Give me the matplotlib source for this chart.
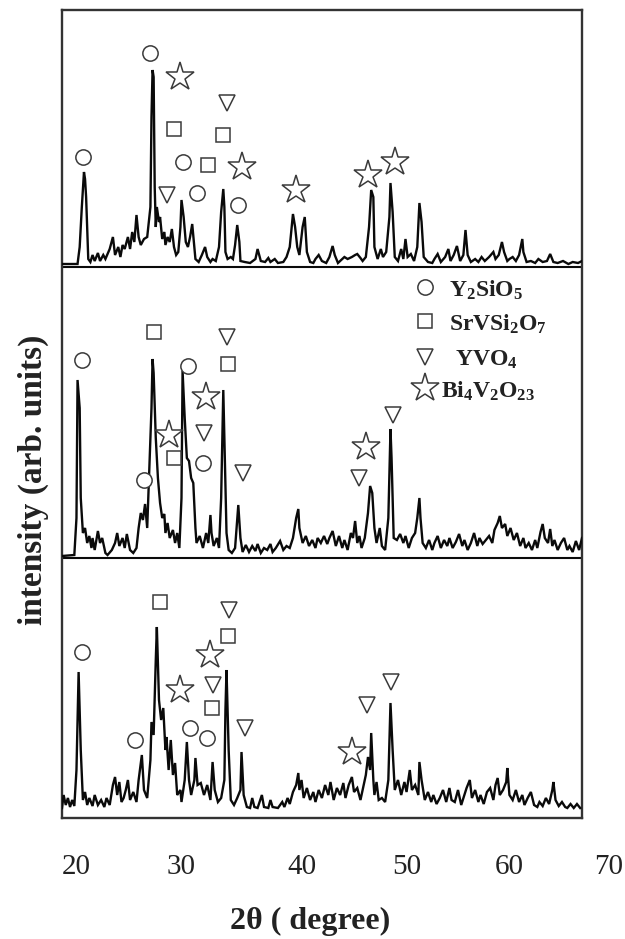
import matplotlib
matplotlib.use("Agg")
import matplotlib.pyplot as plt
from matplotlib.transforms import blended_transform_factory

plt.rcParams['font.family'] = ['Liberation Serif', 'DejaVu Serif']
plt.rcParams['mathtext.fontset'] = 'custom'
plt.rcParams['mathtext.rm'] = 'Liberation Serif:bold'
plt.rcParams['mathtext.it'] = 'Liberation Serif:bold'
plt.rcParams['mathtext.bf'] = 'Liberation Serif:bold'

# ---------------- diffraction patterns (2theta in degrees, intensity arb.) ----------------
# top pattern
tt_top = [18.35, 19.8, 20.0, 20.2, 20.4, 20.5, 20.6, 20.7, 20.8, 21.0, 21.2, 21.4, 21.7, 21.9,
          22.2, 22.4, 22.8, 23.1, 23.3, 23.6, 23.8, 24.0, 24.2, 24.5, 24.7, 24.9, 25.1, 25.3,
          25.5, 25.7, 26.0, 26.3, 26.6, 26.7, 26.8, 26.9, 27.0, 27.1, 27.2, 27.4, 27.5, 27.7,
          27.9, 28.0, 28.2, 28.4, 28.6, 28.8, 29.0, 29.2, 29.4, 29.5, 29.7, 29.9, 30.1, 30.3,
          30.5, 30.7, 30.8, 31.1, 31.4, 31.7, 31.9, 32.2, 32.4, 32.7, 33.0, 33.2, 33.4, 33.5,
          33.6, 33.8, 34.1, 34.3, 34.5, 34.7, 34.9, 35.0, 35.4, 35.9, 36.4, 36.6, 36.9, 37.3,
          37.6, 37.8, 38.2, 38.5, 39.0, 39.3, 39.6, 39.9, 40.1, 40.3, 40.5, 40.8, 41.0, 41.2,
          41.5, 41.8, 42.0, 42.3, 42.6, 43.0, 43.3, 43.6, 43.8, 44.1, 44.5, 44.7, 45.0, 45.4,
          45.7, 45.9, 46.2, 46.4, 46.7, 47.0, 47.2, 47.4, 47.5, 47.8, 48.1, 48.3, 48.6, 48.9,
          49.0, 49.2, 49.4, 49.7, 50.0, 50.2, 50.4, 50.6, 50.9, 51.2, 51.5, 51.7, 51.9, 52.1,
          52.5, 52.9, 53.1, 53.4, 53.7, 54.1, 54.4, 54.6, 54.9, 55.2, 55.5, 55.8, 56.0, 56.2,
          56.5, 56.9, 57.2, 57.5, 57.8, 58.2, 58.6, 58.8, 59.1, 59.4, 59.6, 59.9, 60.1, 60.4,
          60.7, 61.0, 61.3, 61.4, 61.7, 62.1, 62.5, 62.8, 63.2, 63.6, 63.9, 64.2, 64.6, 65.1,
          65.6, 66.0, 66.5, 66.87]
i_top = [3, 3, 20, 60, 95, 88, 70, 40, 8, 5, 12, 6, 14, 6,
         12, 8, 18, 30, 12, 20, 10, 22, 18, 30, 18, 35, 25, 52,
         30, 22, 28, 30, 60, 150, 197, 190, 80, 40, 60, 45, 50, 28,
         35, 22, 30, 25, 38, 20, 12, 15, 40, 67, 50, 25, 20, 30,
         43, 20, 8, 5, 12, 20, 10, 5, 8, 6, 20, 55, 78, 60,
         15, 8, 10, 8, 22, 42, 25, 6, 5, 4, 8, 18, 6, 5,
         9, 5, 8, 4, 5, 10, 20, 53, 40, 20, 12, 40, 50, 15,
         5, 4, 8, 12, 6, 4, 10, 21, 12, 4, 8, 10, 8, 10,
         12, 13, 9, 6, 10, 40, 77, 70, 20, 8, 18, 10, 15, 50,
         84, 55, 10, 6, 18, 8, 28, 10, 13, 6, 20, 64, 45, 10,
         5, 4, 8, 13, 5, 10, 18, 6, 12, 21, 6, 12, 37, 12,
         5, 8, 5, 10, 6, 10, 15, 8, 12, 25, 15, 6, 8, 10,
         6, 12, 28, 15, 5, 6, 4, 8, 5, 6, 13, 5, 4, 6,
         3, 5, 4, 6]

# middle pattern
tt_mid = [18.35, 19.5, 19.7, 19.8, 20.0, 20.1, 20.3, 20.5, 20.7, 20.9, 21.1, 21.2, 21.4, 21.7,
          21.9, 22.1, 22.4, 22.6, 23.0, 23.3, 23.5, 23.7, 24.0, 24.2, 24.4, 24.7, 25.0, 25.3,
          25.5, 25.7, 25.9, 26.1, 26.3, 26.5, 26.7, 26.8, 26.9, 27.1, 27.3, 27.5, 27.7, 27.9,
          28.0, 28.2, 28.4, 28.7, 28.9, 29.1, 29.3, 29.5, 29.6, 29.8, 30.0, 30.2, 30.4, 30.6,
          30.8, 30.9, 31.2, 31.5, 31.8, 32.0, 32.2, 32.3, 32.5, 32.8, 33.0, 33.2, 33.4, 33.5,
          33.7, 33.9, 34.2, 34.5, 34.8, 35.0, 35.2, 35.5, 35.8, 36.1, 36.4, 36.6, 36.9, 37.2,
          37.5, 37.8, 38.0, 38.3, 38.7, 39.0, 39.3, 39.6, 39.9, 40.2, 40.4, 40.5, 40.8, 41.1,
          41.4, 41.7, 42.0, 42.2, 42.5, 42.8, 43.1, 43.3, 43.6, 43.9, 44.2, 44.5, 44.7, 45.0,
          45.3, 45.5, 45.7, 45.9, 46.1, 46.3, 46.6, 46.9, 47.1, 47.3, 47.5, 47.7, 48.0, 48.2,
          48.5, 48.8, 49.0, 49.1, 49.3, 49.6, 49.9, 50.2, 50.4, 50.7, 51.0, 51.3, 51.5, 51.7,
          51.8, 52.0, 52.3, 52.6, 52.9, 53.1, 53.4, 53.7, 54.0, 54.3, 54.5, 54.8, 55.1, 55.4,
          55.7, 55.9, 56.2, 56.5, 56.8, 57.1, 57.3, 57.6, 57.9, 58.2, 58.5, 58.7, 59.0, 59.2,
          59.4, 59.7, 59.9, 60.2, 60.5, 60.8, 61.1, 61.4, 61.6, 61.9, 62.2, 62.5, 62.7, 63.0,
          63.2, 63.4, 63.7, 63.9, 64.1, 64.3, 64.6, 64.9, 65.2, 65.5, 65.7, 66.0, 66.3, 66.6,
          66.87]
i_mid = [2, 3, 40, 178, 150, 60, 25, 30, 15, 22, 10, 20, 8, 27,
         15, 20, 5, 3, 8, 15, 25, 12, 20, 10, 24, 8, 5, 10,
         30, 45, 38, 54, 30, 90, 150, 199, 185, 120, 80, 55, 40, 44,
         25, 35, 20, 28, 15, 25, 10, 60, 187, 140, 100, 97, 80, 75,
         30, 15, 22, 10, 25, 15, 43, 25, 12, 20, 10, 60, 168, 120,
         25, 8, 5, 10, 53, 20, 6, 13, 6, 12, 7, 14, 5, 10,
         8, 14, 6, 10, 17, 8, 12, 10, 20, 40, 49, 30, 15, 22,
         12, 18, 10, 20, 15, 22, 14, 20, 27, 12, 22, 10, 18, 8,
         25, 20, 37, 15, 22, 10, 20, 45, 72, 65, 30, 15, 30, 12,
         8, 40, 129, 100, 20, 18, 24, 15, 22, 10, 20, 25, 40, 60,
         40, 15, 10, 18, 8, 15, 22, 10, 18, 12, 20, 10, 16, 24,
         12, 18, 8, 15, 25, 12, 20, 14, 18, 22, 15, 28, 35, 42,
         30, 34, 22, 30, 18, 25, 12, 20, 10, 15, 8, 18, 10, 26,
         34, 20, 15, 29, 12, 18, 8, 15, 20, 8, 12, 6, 17, 8,
         20]

# bottom pattern
tt_bot = [18.35, 18.5, 18.7, 18.9, 19.1, 19.3, 19.5, 19.7, 19.9, 20.1, 20.3, 20.5, 20.7, 20.9,
          21.2, 21.4, 21.7, 22.0, 22.3, 22.5, 22.8, 23.1, 23.3, 23.5, 23.7, 23.9, 24.1, 24.3,
          24.5, 24.7, 25.0, 25.3, 25.5, 25.8, 26.0, 26.3, 26.6, 26.7, 26.9, 27.1, 27.2, 27.4,
          27.6, 27.8, 28.0, 28.1, 28.3, 28.5, 28.7, 28.9, 29.1, 29.4, 29.5, 29.8, 30.0, 30.2,
          30.4, 30.7, 30.8, 31.0, 31.3, 31.6, 31.9, 32.2, 32.4, 32.6, 32.9, 33.2, 33.5, 33.6,
          33.7, 33.9, 34.1, 34.4, 34.7, 35.0, 35.1, 35.3, 35.6, 35.9, 36.1, 36.3, 36.6, 37.0,
          37.2, 37.6, 37.8, 38.0, 38.5, 38.9, 39.1, 39.4, 39.6, 39.9, 40.2, 40.4, 40.5, 40.7,
          40.9, 41.2, 41.5, 41.8, 42.0, 42.3, 42.6, 42.9, 43.2, 43.4, 43.7, 44.0, 44.3, 44.6,
          44.8, 45.1, 45.4, 45.6, 45.9, 46.2, 46.4, 46.7, 46.9, 47.1, 47.2, 47.4, 47.5, 47.7,
          47.9, 48.2, 48.5, 48.8, 49.0, 49.2, 49.4, 49.7, 50.0, 50.3, 50.5, 50.8, 51.0, 51.3,
          51.6, 51.7, 51.9, 52.2, 52.5, 52.8, 53.0, 53.3, 53.6, 53.9, 54.2, 54.5, 54.7, 55.0,
          55.3, 55.6, 55.9, 56.1, 56.4, 56.6, 56.9, 57.2, 57.4, 57.7, 58.0, 58.3, 58.6, 58.8,
          59.0, 59.2, 59.5, 59.8, 59.9, 60.1, 60.4, 60.7, 61.0, 61.3, 61.5, 61.8, 62.1, 62.4,
          62.7, 62.9, 63.2, 63.5, 63.8, 64.1, 64.2, 64.4, 64.7, 65.0, 65.3, 65.5, 65.8, 66.1,
          66.4, 66.7]
i_bot = [2, 15, 5, 12, 3, 10, 4, 40, 138, 60, 10, 18, 5, 12,
         4, 15, 5, 10, 3, 12, 5, 25, 33, 15, 28, 8, 12, 20,
         30, 10, 18, 8, 30, 55, 20, 12, 50, 88, 75, 150, 183, 110,
         90, 102, 60, 73, 40, 70, 35, 47, 15, 20, 8, 30, 68, 30,
         15, 30, 52, 25, 27, 15, 25, 10, 48, 20, 8, 12, 30, 100,
         140, 60, 10, 5, 12, 20, 58, 15, 3, 2, 12, 3, 2, 15,
         3, 2, 10, 3, 2, 8, 3, 12, 6, 18, 25, 37, 20, 30,
         12, 22, 10, 18, 8, 20, 12, 25, 15, 28, 10, 22, 15, 27,
         12, 25, 33, 18, 22, 10, 20, 35, 53, 40, 77, 30, 15, 28,
         10, 12, 8, 30, 107, 60, 20, 30, 15, 28, 18, 40, 20, 25,
         15, 48, 30, 10, 18, 8, 15, 6, 12, 20, 8, 22, 10, 8,
         20, 5, 15, 22, 30, 12, 20, 8, 15, 6, 18, 22, 10, 25,
         32, 15, 20, 28, 42, 15, 10, 20, 8, 15, 5, 12, 18, 5,
         3, 8, 4, 12, 6, 20, 28, 10, 4, 8, 3, 2, 6, 2,
         6, 2]

# vertical offsets of the stacked patterns
offsets = [551, 260, 8]

# ---------------- phase markers (2theta, height in plot units) ----------------
phase_labels = [r'$\mathrm{Y_2SiO_5}$', r'$\mathrm{SrVSi_2O_7}$',
                r'$\mathrm{YVO_4}$', r'$\mathrm{Bi_4V_2O_{23}}$']

circ_x = [20.28, 26.56, 29.61, 30.92, 34.80,
          20.19, 30.13, 31.47, 25.99,
          20.24, 30.29, 31.85, 25.16]
circ_y = [661, 765, 656, 625, 613,
          458, 452, 355, 338,
          166, 90, 80, 78]
sq_x = [28.80, 33.40, 32.00,
        26.93, 33.86, 28.80,
        27.49, 33.86, 32.37]
sq_y = [689, 683, 653,
        486, 454, 360,
        216, 182, 110]
tri_x = [33.71, 28.17,
         33.71, 31.60, 35.21, 46.08, 49.25,
         33.93, 32.41, 35.42, 46.77, 49.04]
tri_y = [715, 623,
         481, 385, 345, 340, 403,
         208, 133, 90, 113, 136]
star_x = [29.36, 35.11, 40.18, 46.92, 49.41,
          31.75, 28.36, 46.71,
          32.16, 29.36, 45.37]
star_y = [741, 651, 628, 643, 656,
          421, 383, 371,
          163, 128, 66]

tick_labels = ['20', '30', '40', '50', '60', '70']
# hand-set label positions along 2theta
tick_label_pos = [19.7, 29.5, 40.7, 50.5, 60.1, 69.4]

# ---------------- figure ----------------
fig = plt.figure(figsize=(6.25, 9.39), dpi=100)
ax = fig.add_axes([62 / 625, 1 - 818 / 939, 520 / 625, 808 / 939])
ax.set_xlim(18.35, 66.87)
ax.set_ylim(0, 808)
ax.set_xticks([])
ax.set_yticks([])
for sp in ax.spines.values():
    sp.set_color('#333333')
    sp.set_linewidth(1.7)

ink = '#0a0a0a'
for off in offsets[:2]:
    ax.axhline(off, color=ink, lw=1.5, zorder=2)

for tt, ii, off in zip([tt_top, tt_mid, tt_bot], [i_top, i_mid, i_bot], offsets):
    ax.plot(tt, [off + v for v in ii], color=ink, lw=1.7, zorder=3,
            solid_joinstyle='miter')

mk = dict(linestyle='none', markerfacecolor='white', markeredgecolor='#3a3a3a',
          markeredgewidth=1.1, zorder=4)
ax.plot(circ_x, circ_y, marker='o', markersize=11, **mk)
ax.plot(sq_x, sq_y, marker='s', markersize=10, **mk)
ax.plot(tri_x, tri_y, marker='v', markersize=12, **mk)
ax.plot(star_x, star_y, marker='*', markersize=21, **mk)

# phase key
key_y = [0.6576, 0.6155, 0.571, 0.5326]
key_marks = ['o', 's', 'v', '*']
key_sizes = [11, 10, 12, 21]
key_text_x = [0.745, 0.745, 0.755, 0.728]
for m, s, yk, lab, tx in zip(key_marks, key_sizes, key_y, phase_labels, key_text_x):
    ax.plot([0.698], [yk], marker=m, markersize=s, transform=ax.transAxes, **mk)
    ax.text(tx, yk - 0.004, lab, transform=ax.transAxes, fontsize=17, color='#222222',
            ha='left', va='center')

# axis annotations
tr = blended_transform_factory(ax.transData, ax.transAxes)
for pos, lab in zip(tick_label_pos, tick_labels):
    ax.text(pos, -0.0606, lab, transform=tr, ha='center', va='center',
            fontsize=21, color='#222222', clip_on=False)

ax.text(0.477, -0.1275, '2θ ( degree)', transform=ax.transAxes, ha='center',
        va='center', fontsize=23, fontweight='bold', color='#222222')
ax.text(-0.0558, 0.418, 'intensity (arb. units)', transform=ax.transAxes,
        ha='center', va='center', rotation=90, fontsize=24, fontweight='bold',
        color='#222222')

fig.savefig('out.png', dpi=100)
